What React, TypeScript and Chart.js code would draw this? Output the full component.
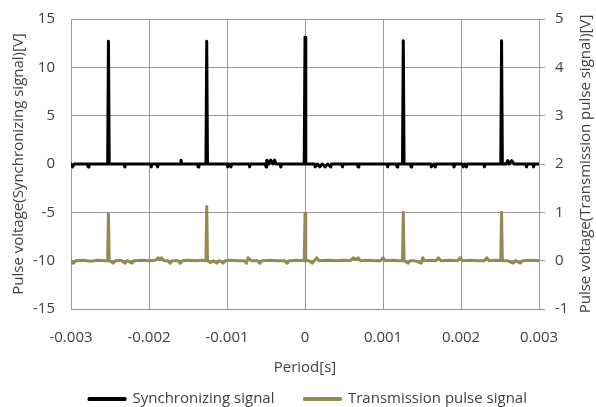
import React, { useEffect, useRef } from "react";
import { Chart, registerables } from "chart.js";

Chart.register(...registerables);

const xTickValues = [-0.003, -0.002, -0.001, 0, 0.001, 0.002, 0.003];
const xTickLabels = ["-0.003", "-0.002", "-0.001", "0", "0.001", "0.002", "0.003"];

const seriesNames = ["Synchronizing signal", "Transmission pulse signal"];
const xTitle = "Period[s]";
const leftTitle = "Pulse voltage(Synchronizing signal)[V]";
const rightTitle = "Pulse voltage(Transmission pulse signal)[V]";

const syncTime = [
  -0.003, -0.00298, -0.00296, -0.00279, -0.00278, -0.00277, -0.00253, -0.00252, -0.00251,
  -0.00232, -0.00231, -0.0023, -0.00198, -0.00197, -0.00196, -0.0019, -0.00189, -0.00188,
  -0.0016, -0.00159, -0.00158, -0.00138, -0.00137, -0.00136, -0.00127, -0.00126, -0.00125,
  -0.001, -0.00099, -0.00097, -0.00095, -0.00094, -0.00072, -0.00071, -0.0007,
  -0.00051, -0.0005, -0.00049, -0.00046, -0.00044, -0.00041, -0.00039, -0.00037,
  -0.00032, -0.00031, -0.0003, -0.00001, 0, 0.00001,
  0.00012, 0.00013, 0.00016, 0.00019, 0.00022, 0.00026, 0.00029, 0.00033, 0.00034,
  0.00047, 0.00048, 0.00049, 0.00067, 0.00068, 0.00069, 0.00105, 0.00106, 0.00107,
  0.00117, 0.00118, 0.00119, 0.00125, 0.00126, 0.00127, 0.00135, 0.00136, 0.00137,
  0.00161, 0.00162, 0.00165, 0.00167, 0.00168, 0.0019, 0.00191, 0.00192,
  0.00202, 0.00203, 0.00205, 0.00207, 0.00208, 0.00229, 0.0023, 0.00231,
  0.00251, 0.00252, 0.00253, 0.00258, 0.0026, 0.00262, 0.00265, 0.00268,
  0.00283, 0.00284, 0.00285, 0.00292, 0.00293, 0.00294, 0.003,
];
const syncVolt = [
  0, -0.3, 0, 0, -0.3, 0, 0, 12.7, 0,
  0, -0.3, 0, 0, -0.3, 0, 0, -0.3, 0,
  0, 0.4, 0, 0, -0.3, 0, 0, 12.7, 0,
  0, -0.3, 0, -0.3, 0, 0, -0.3, 0,
  0, -0.3, 0.4, 0, 0.4, 0, 0.4, 0,
  0, -0.3, 0, 0, 13.1, 0,
  0, -0.3, 0, -0.3, 0, -0.3, 0, -0.3, 0,
  0, -0.3, 0, 0, -0.3, 0, 0, -0.3, 0,
  0, -0.3, 0, 0, 12.75, 0, 0, -0.3, 0,
  0, -0.3, 0, -0.3, 0, 0, -0.3, 0,
  0, -0.3, 0, -0.3, 0, 0, -0.3, 0,
  0, 12.75, 0, 0, 0.35, 0, 0.35, 0,
  0, -0.3, 0, 0, -0.3, 0, 0,
];

const pulseTime = [
  -0.003, -0.00297, -0.00294, -0.00285, -0.00275, -0.00265, -0.00256, -0.00253, -0.00252, -0.00251,
  -0.00246, -0.00243, -0.00236, -0.00231, -0.00228, -0.00222, -0.00219, -0.0021, -0.002,
  -0.00192, -0.00188, -0.00186, -0.00184, -0.00181, -0.00176, -0.00173, -0.0017, -0.00163,
  -0.0016, -0.00157, -0.0015, -0.0014, -0.00132, -0.00127, -0.00126, -0.00125,
  -0.00121, -0.00118, -0.00113, -0.0011, -0.00105, -0.00102, -0.00095, -0.00085,
  -0.00078, -0.00075, -0.00073, -0.00069, -0.00061, -0.00058, -0.00055, -0.00045,
  -0.00035, -0.00026, -0.00023, -0.0002, -0.0001, -0.00001, 0, 0.00001,
  0.00005, 0.00009, 0.00012, 0.00015, 0.00018, 0.0003, 0.0004, 0.0005, 0.00058,
  0.00062, 0.00065, 0.00068, 0.00071, 0.0008, 0.0009, 0.00097, 0.001, 0.00103,
  0.00112, 0.0012, 0.00125, 0.00126, 0.00127, 0.00132, 0.00135, 0.0014, 0.00149,
  0.00151, 0.00153, 0.00162, 0.00168, 0.00171, 0.00174, 0.00185, 0.00196, 0.00199,
  0.00202, 0.00212, 0.00222, 0.0023, 0.00233, 0.00236, 0.00245, 0.00251, 0.00252,
  0.00253, 0.00259, 0.00267, 0.0027, 0.00276, 0.00279, 0.0029, 0.003,
];
const pulseVolt = [
  0, -0.05, 0, 0.01, -0.01, 0.01, 0, 0, 0.97, 0,
  -0.05, 0, 0.01, -0.05, 0, -0.05, 0, 0.01, 0,
  0.01, 0.06, 0.02, 0.06, 0, 0, -0.05, 0, 0,
  -0.05, 0, 0.01, 0, 0.01, 0, 1.12, 0,
  -0.04, 0, -0.05, 0, -0.05, 0, 0.01, 0,
  0, -0.05, 0.06, 0, 0, -0.05, 0, 0.01,
  0, 0, -0.05, 0, 0.01, 0, 0.98, 0,
  0, -0.05, 0, 0.06, 0, 0.01, 0, 0.01, 0,
  0.06, 0.02, 0.06, 0, 0.01, 0, 0, 0.06, 0,
  0.01, 0, 0, 1.0, 0, -0.05, 0, 0, -0.05,
  0.06, 0, 0.01, 0, 0.06, 0, 0.01, 0, 0.06,
  0, 0.01, 0, 0, 0.06, 0, 0.01, 0, 1.0,
  0, 0, -0.05, 0, -0.05, 0, 0.01, 0,
];

const FONT = "'Open Sans', sans-serif";
const FS = 15;
const TEXT = "#404040";
const GRID = "#9a9a9a";

export default function App() {
  const ref = useRef<HTMLCanvasElement | null>(null);
  useEffect(() => {
    if (!ref.current) return;
    const rightTitlePlugin = {
      id: "rightTitle",
      afterDraw(chart: any) {
        const { ctx, chartArea } = chart;
        ctx.save();
        ctx.translate(586, (chartArea.top + chartArea.bottom) / 2);
        ctx.rotate(-Math.PI / 2);
        ctx.font = `${FS}px ${FONT}`;
        ctx.fillStyle = TEXT;
        ctx.textAlign = "center";
        ctx.textBaseline = "middle";
        ctx.fillText(rightTitle, 0, 0);
        ctx.restore();
      },
    };
    const chart = new Chart(ref.current, {
      type: "scatter",
      data: {
        datasets: [
          {
            label: seriesNames[0],
            data: syncTime.map((t, i) => ({ x: t, y: syncVolt[i] })),
            showLine: true,
            borderColor: "#000000",
            backgroundColor: "#000000",
            borderWidth: 3,
            borderJoinStyle: "round",
            borderCapStyle: "round",
            pointRadius: 0,
            yAxisID: "y",
            order: 1,
          },
          {
            label: seriesNames[1],
            data: pulseTime.map((t, i) => ({ x: t, y: pulseVolt[i] })),
            showLine: true,
            borderColor: "#948A54",
            backgroundColor: "#948A54",
            borderWidth: 3,
            borderJoinStyle: "round",
            borderCapStyle: "round",
            pointRadius: 0,
            yAxisID: "y2",
            order: 2,
          },
        ],
      },
      options: {
        animation: false,
        responsive: false,
        layout: { padding: { top: 19, left: 0, right: -20, bottom: -9.5 } },
        plugins: {
          legend: {
            position: "bottom",
            labels: {
              boxWidth: 36,
              boxHeight: 1,
              padding: 30,
              color: TEXT,
              font: { family: FONT, size: FS },
            },
          },
          tooltip: { enabled: false },
        },
        scales: {
          x: {
            type: "linear",
            min: -0.003,
            max: 0.003,
            afterBuildTicks: (s: any) => {
              s.ticks = xTickValues.map((v) => ({ value: v }));
            },
            afterFit: (s: any) => {
              s.height = 52.5;
            },
            ticks: {
              color: TEXT,
              font: { family: FONT, size: FS },
              padding: 20,
              maxRotation: 0,
              callback: (v: any) => {
                const i = xTickValues.findIndex((t) => Math.abs(t - Number(v)) < 1e-9);
                return i >= 0 ? xTickLabels[i] : "";
              },
            },
            grid: { color: GRID, drawTicks: false },
            border: { color: GRID },
            title: {
              display: true,
              text: xTitle,
              color: TEXT,
              font: { family: FONT, size: FS },
              padding: { top: 0, bottom: -15.5 },
            },
          },
          y: {
            position: "left",
            min: -15,
            max: 15,
            ticks: {
              stepSize: 5,
              color: TEXT,
              font: { family: FONT, size: FS },
              padding: 2,
            },
            afterFit: (s: any) => {
              s.width = 71;
            },
            grid: { color: GRID, drawTicks: true, tickLength: 14, tickColor: "rgba(0,0,0,0)" },
            border: { color: GRID },
            title: {
              display: true,
              text: leftTitle,
              color: TEXT,
              font: { family: FONT, size: FS },
              padding: { top: 10, bottom: 0 },
            },
          },
          y2: {
            position: "right",
            min: -1,
            max: 5,
            ticks: {
              stepSize: 1,
              color: TEXT,
              font: { family: FONT, size: FS },
              padding: 10,
            },
            afterFit: (s: any) => {
              s.width = 77;
            },
            grid: { color: GRID, drawOnChartArea: false, drawTicks: true, tickLength: 6 },
            border: { color: GRID },
          },
        },
      },
      plugins: [rightTitlePlugin],
    });
    return () => chart.destroy();
  }, []);
  return (
    <div style={{ position: "absolute", left: 0, top: 0, width: 596, height: 407, background: "#fff", overflow: "hidden" }}>
      <canvas ref={ref} width={596} height={407} />
    </div>
  );
}
